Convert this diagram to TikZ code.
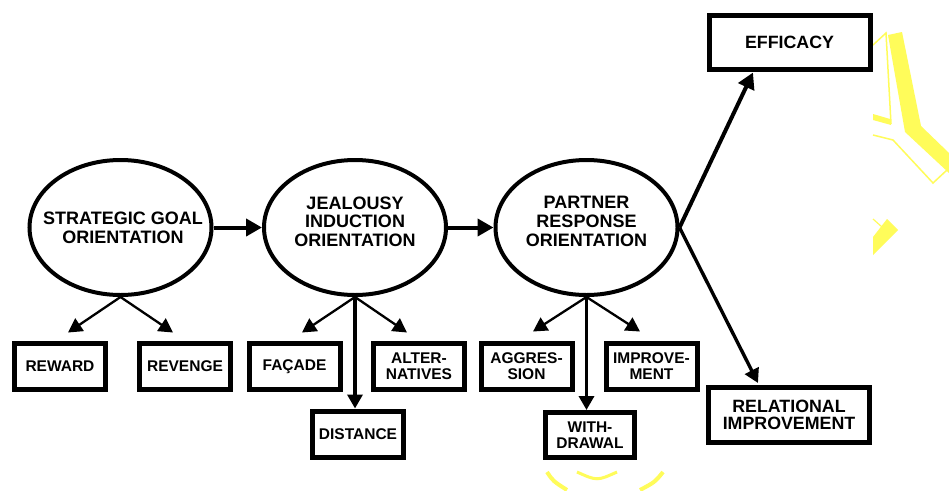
\documentclass[tikz,border=0pt]{standalone}
\usepackage{fontspec}
\setmainfont{Liberation Sans}
\usetikzlibrary{shapes.geometric,arrows.meta,calc}
\definecolor{markyellow}{RGB}{255,252,90}
\begin{document}
\begin{tikzpicture}[x=1pt,y=1pt,yscale=-1,xscale=1,
		orient/.style={ellipse, draw, line width=4pt, minimum width=182pt, minimum height=135pt, inner sep=0pt},
		orienttext/.style={align=center, inner sep=0.75pt, font={\bfseries\fontsize{18}{18.7}\selectfont}},
		tactic/.style={rectangle, draw, line width=5pt, minimum width=91pt, minimum height=46pt, align=center, inner sep=0pt, font={\bfseries\fontsize{15.5}{16}\selectfont}},
		outcome/.style={rectangle, draw, line width=5pt, minimum width=161pt, minimum height=54pt, align=center, inner sep=0pt, font={\bfseries\fontsize{17.8}{16.5}\selectfont}},
		thinarrow/.style={line width=2.3pt, -{Triangle[length=14pt,width=15pt]}},
		midarrow/.style={line width=3.4pt, -{Triangle[length=14pt,width=15pt]}},
		thickarrow/.style={line width=4pt, -{Triangle[length=16pt,width=17pt]}},
		marker/.style={markyellow}]
		% Set diagram size to 949 x 490
		\path[use as bounding box, fill=white] (0,0) rectangle (949,490);

		% The yellow marks at the right edge and at the bottom
		\fill[marker] (888,35) -- (902,32) -- (921,126) -- (949,153) -- (949,173) -- (905,132) -- cycle;
		\draw[marker, line width=1.5pt] (873,45) -- (886,33) -- (891,124);
		\fill[marker] (873,114) -- (890,119) -- (891,125) -- (873,120) -- cycle;
		\draw[marker, line width=1.5pt] (873,135) -- (893,140) -- (933,183) -- (947,170);
		\fill[marker] (873,237) -- (887,219) -- (898,230) -- (873,255) -- cycle;
		\draw[marker, line width=1.2pt] (873,219) -- (882,227);
		\draw[marker, line width=4pt] (547,472) .. controls (553,481) .. (567,490);
		\draw[marker, line width=3pt] (577,472) .. controls (597,481) .. (617,472);
		\draw[marker, line width=4pt] (663,472) .. controls (655,482) .. (640,490);

		% The three orientations (ellipses)
		\node[orient] (strat) at (120.5,227.5) {};
		\node[orient] (jeal) at (355,227.5) {};
		\node[orient] (part) at (586.5,227.5) {};

		% Their texts
		\node[orienttext] (strattext) at (123,227.5) {STRATEGIC GOAL\\ORIENTATION};
		\node[orienttext] (jealtext) at (355,221.5) {JEALOUSY\\INDUCTION\\ORIENTATION};
		\node[orienttext] (parttext) at (586.5,221.5) {PARTNER\\RESPONSE\\ORIENTATION};

		% The tactics (boxes) below the ellipses
		\node[tactic] (rew) at (60,366.5) {REWARD};
		\node[tactic] (rev) at (185,366.5) {REVENGE};
		\node[tactic] (fac) at (294.5,366.5) {FAÇADE};
		\node[tactic] (alt) at (419,366.5) {ALTER-\\NATIVES};
		\node[tactic] (dist) at (358,434) {DISTANCE};
		\node[tactic] (agg) at (526.5,366.5) {AGGRES-\\SION};
		\node[tactic] (imp) at (651.5,366.5) {IMPROVE-\\MENT};
		\node[tactic, minimum width=89pt, minimum height=45pt] (wdr) at (590,435) {WITH-\\DRAWAL};

		% The outcomes at the right
		\node[outcome] (eff) at (789.5,42) {EFFICACY};
		\node[outcome, minimum height=55pt] (rel) at (789,415) {RELATIONAL\\IMPROVEMENT};

		% Arrows between the ellipses
		\draw[thickarrow] (strat.east) -- (jeal.west);
		\draw[thickarrow] (jeal.east) -- (part.west);

		% Arrows from the ellipses down to the tactics
		\draw[thinarrow] (strat.south) -- ($(rew.north)+(8,-8.5)$);
		\draw[thinarrow] (strat.south) -- ($(rev.north)+(-12,-8.5)$);
		\draw[thinarrow] (jeal.south) -- ($(fac.north)+(7.5,-8.5)$);
		\draw[thinarrow] (jeal.south) -- ($(alt.north)+(-12,-8.5)$);
		\draw[midarrow] (jeal.south) -- (jeal.south |- dist.north);
		\draw[thinarrow] (part.south) -- ($(agg.north)+(6.5,-9.5)$);
		\draw[thinarrow] (part.south) -- ($(imp.north)+(-11.5,-9.5)$);
		\draw[midarrow] (part.south) -- (part.south |- wdr.north);

		% Arrows from the partner response to the outcomes
		\draw[thickarrow] (part.east) -- ($(eff.south)+(-36.5,1)$);
		\draw[midarrow] (part.east) -- ($(rel.north)+(-31,-2)$);
	\end{tikzpicture}
\end{document}
